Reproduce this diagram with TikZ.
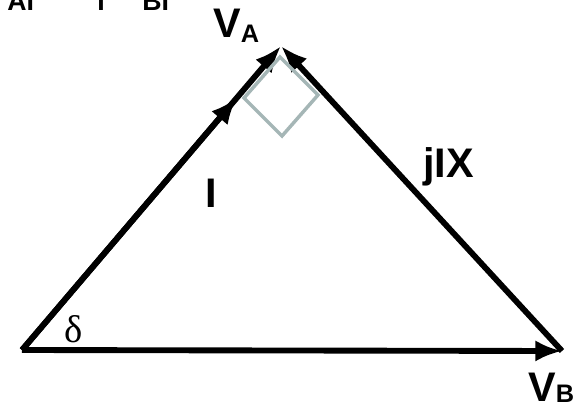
\documentclass[tikz,border=0pt]{standalone}
\usepackage{fontspec}
\setmainfont{Liberation Sans}
\newfontfamily\deltafont{Liberation Serif}
\usetikzlibrary{arrows.meta, positioning, calc}
\definecolor{sqgray}{RGB}{165,182,182}

\begin{document}
\begin{tikzpicture}[
    x=0.75pt, y=-0.75pt,
    lbl/.style={inner sep=0pt, anchor=base west, font=\fontsize{31}{31}\selectfont\bfseries},
    cut/.style={inner sep=0pt, anchor=base west, font=\fontsize{20}{20}\selectfont\bfseries},
    vec/.style={-{Latex[length=20pt, width=16pt]}, line width=4.4pt},
    rightangle/.style={draw=sqgray, line width=2.6pt}
]
\useasboundingbox (0,0) rectangle (584,414);

% corners of the triangle
\coordinate (orig) at (22,350);
\coordinate (va) at (281,46);
\coordinate (vb) at (562,351);
\coordinate (iend) at ($(orig)!0.83!(va)$);

\draw[vec] (orig) -- (vb);
\draw[vec] (orig) -- (va);
\draw[vec] (orig) -- (iend);
\draw[vec] (vb) -- (va);

% right angle at V_A
\coordinate (sqtop) at (280,57);
\draw[rightangle] (sqtop) -- ++(-36,41) -- ++(38,38) -- ++(36,-41) -- cycle;

% labels
\node[lbl] (lva) at (213,37) {V\raisebox{-4pt}{\fontsize{19}{19}\selectfont A}};
\node[lbl] (lvb) at (528,401) {V\raisebox{-1pt}{\fontsize{19}{19}\selectfont B}};
\node[lbl] (li) at (205,207) {I};
\node[lbl] (ljix) at (423,177) {jIX};
\node[inner sep=0pt, anchor=base west, font=\fontsize{29}{29}\selectfont\deltafont] (ldelta) at (64,342) {δ};

% cut-off text along the top edge
\node[cut] (tai) at (7,10) {AI};
\node[cut] (ti) at (97,10) {I};
\node[cut] (tbi) at (142,10) {BI};
\end{tikzpicture}
\end{document}
